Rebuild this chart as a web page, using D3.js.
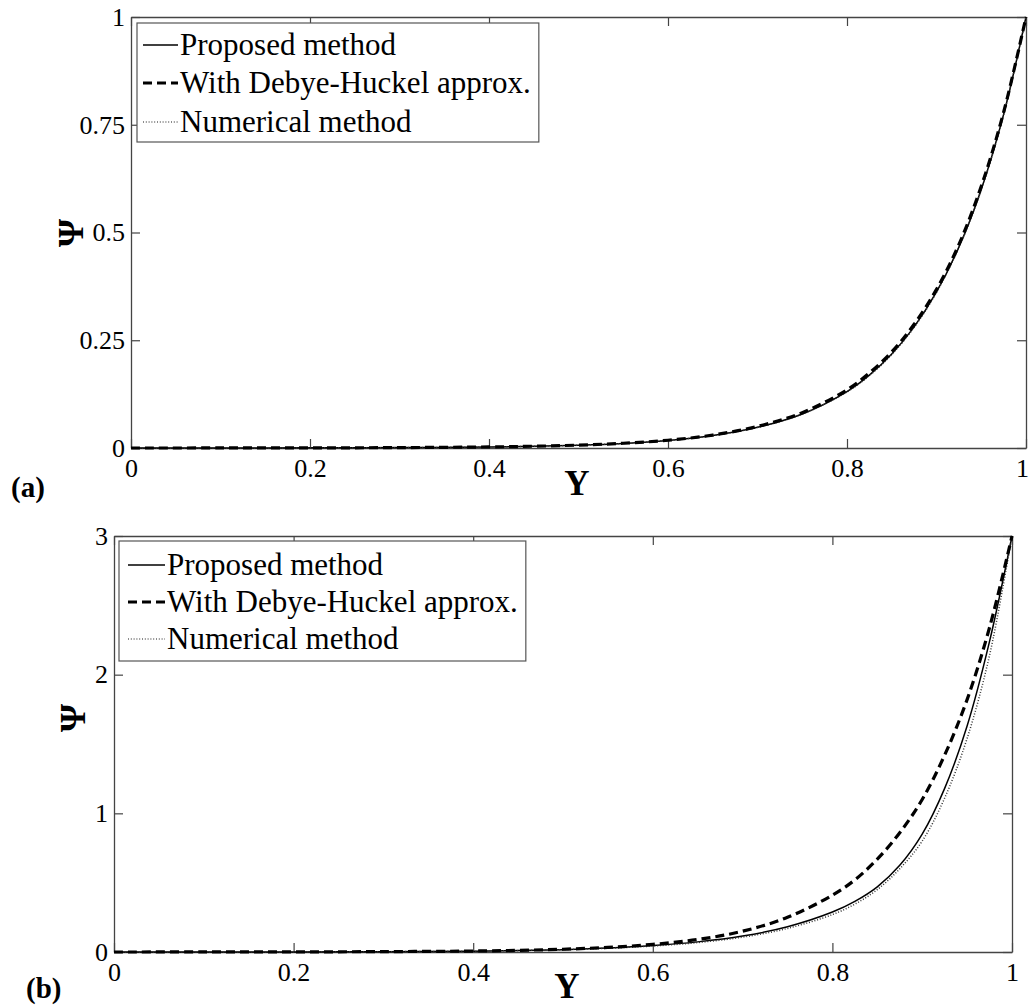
<!DOCTYPE html>
<html>
<head>
<meta charset="utf-8">
<script src="https://cdn.jsdelivr.net/npm/d3@7"></script>
<style>
  html, body { margin: 0; padding: 0; background: #fff; }
  svg { display: block; }
  text { font-family: "Liberation Serif", "Times New Roman", serif; fill: #000; }
</style>
</head>
<body>
<svg id="fig" width="1029" height="1005"></svg>
<script>
// Dimensionless distance from the centre line to the wall
const yPositions = [0, 0.1, 0.2, 0.3, 0.4, 0.45, 0.5, 0.55, 0.6, 0.65, 0.7, 0.75, 0.8, 0.825, 0.85, 0.875, 0.9, 0.925, 0.95, 0.975, 1];

// Axis ticks
const xTicks = [0, 0.2, 0.4, 0.6, 0.8, 1];
const yTicksA = [0, 0.25, 0.5, 0.75, 1];
const yTicksB = [0, 1, 2, 3];

// Legend entries
const seriesNames = ["Proposed method", "With Debye-Huckel approx.", "Numerical method"];

// (a) wall potential = 1
const proposedA  = [0, 0.0001, 0.0003, 0.0009, 0.0024, 0.004, 0.0065, 0.0107, 0.0176, 0.029, 0.048, 0.079, 0.131, 0.169, 0.218, 0.281, 0.362, 0.466, 0.600, 0.774, 1];
const debyeA     = [0, 0.0001, 0.0003, 0.0009, 0.0025, 0.0041, 0.0067, 0.011, 0.018, 0.030, 0.050, 0.082, 0.135, 0.174, 0.223, 0.287, 0.368, 0.472, 0.607, 0.779, 1];
const numericalA = [0, 0.0001, 0.0003, 0.0009, 0.0024, 0.004, 0.0065, 0.0106, 0.0175, 0.0288, 0.0478, 0.0786, 0.130, 0.168, 0.217, 0.280, 0.361, 0.465, 0.599, 0.773, 1];

// (b) wall potential = 3
const proposedB  = [0.0001, 0.0003, 0.0008, 0.002, 0.006, 0.010, 0.017, 0.028, 0.046, 0.073, 0.115, 0.182, 0.288, 0.365, 0.47, 0.625, 0.85, 1.18, 1.63, 2.24, 3];
const debyeB     = [0.0001, 0.0004, 0.001, 0.0027, 0.007, 0.012, 0.02, 0.033, 0.055, 0.09, 0.15, 0.25, 0.41, 0.52, 0.67, 0.86, 1.10, 1.42, 1.82, 2.34, 3];
const numericalB = [0.0001, 0.0003, 0.0008, 0.002, 0.006, 0.010, 0.017, 0.027, 0.043, 0.068, 0.107, 0.17, 0.27, 0.345, 0.45, 0.60, 0.80, 1.11, 1.54, 2.14, 3];

const svg = d3.select("#fig");

const styles = [
  { stroke: "#000", width: 1.5, dash: null },
  { stroke: "#000", width: 3.2, dash: "9,5" },
  { stroke: "#333", width: 1.5, dash: "1,1.8" }
];

function fmt(d) { return String(d); }

function drawPanel(p) {
  const x = d3.scaleLinear().domain([0, 1]).range([p.left, p.right]);
  const y = d3.scaleLinear().domain(p.yDomain).range([p.bottom, p.top]);
  const g = svg.append("g");

  const frame = "#444";
  // bottom axis with labels, ticks pointing inward
  const bx = g.append("g").attr("transform", `translate(0,${p.bottom})`)
    .call(d3.axisBottom(x).tickValues(xTicks).tickFormat(fmt).tickSizeInner(-9).tickSizeOuter(0).tickPadding(11));
  // top axis mirror
  const tx = g.append("g").attr("transform", `translate(0,${p.top})`)
    .call(d3.axisTop(x).tickValues(xTicks).tickFormat("").tickSizeInner(-9).tickSizeOuter(0));
  // left axis
  const ly = g.append("g").attr("transform", `translate(${p.left},0)`)
    .call(d3.axisLeft(y).tickValues(p.yTicks).tickFormat(fmt).tickSizeInner(-9).tickSizeOuter(0).tickPadding(6));
  // right axis mirror
  const ry = g.append("g").attr("transform", `translate(${p.right},0)`)
    .call(d3.axisRight(y).tickValues(p.yTicks).tickFormat("").tickSizeInner(-9).tickSizeOuter(0));

  [bx, tx, ly, ry].forEach(a => {
    a.attr("font-family", '"Liberation Serif", "Times New Roman", serif').attr("font-size", 26);
    a.select(".domain").attr("stroke", frame).attr("stroke-width", 1.3);
    a.selectAll(".tick line").attr("stroke", frame).attr("stroke-width", 1.2);
    a.selectAll(".tick text").attr("fill", "#000");
  });
  // keep the last x label inside the canvas edge
  bx.selectAll(".tick text").filter(d => d === 1).attr("dx", p.lastDx || 0);

  // curves
  const line = d3.line().x((d, i) => x(yPositions[i])).y(d => y(d)).curve(d3.curveCatmullRom.alpha(0.5));
  const order = [0, 2, 1];
  order.forEach(k => {
    const s = styles[k];
    g.append("path").datum(p.series[k])
      .attr("d", line)
      .attr("fill", "none")
      .attr("stroke", s.stroke)
      .attr("stroke-width", s.width)
      .attr("stroke-dasharray", s.dash);
  });

  // legend
  const lg = g.append("g");
  const box = lg.append("rect")
    .attr("x", p.legend.x).attr("y", p.legend.y)
    .attr("height", p.legend.h)
    .attr("fill", "#fff").attr("stroke", "#555").attr("stroke-width", 1.2);
  let maxW = 0;
  seriesNames.forEach((name, i) => {
    const base = p.legend.baselines[i];
    const s = styles[i];
    lg.append("line")
      .attr("x1", p.legend.sample[0]).attr("x2", p.legend.sample[1])
      .attr("y1", base - 10).attr("y2", base - 10)
      .attr("stroke", i === 2 ? "#666" : s.stroke).attr("stroke-width", s.width)
      .attr("stroke-dasharray", s.dash);
    const t = lg.append("text")
      .attr("x", p.legend.textX).attr("y", base)
      .style("font-size", "31px")
      .text(name);
    maxW = Math.max(maxW, t.node().getComputedTextLength());
  });
  box.attr("width", p.legend.textX + maxW + 8 - p.legend.x);

  // axis titles
  g.append("text")
    .attr("x", p.xTitle[0]).attr("y", p.xTitle[1])
    .attr("text-anchor", "middle")
    .style("font-size", "35px").style("font-weight", "bold")
    .text("Y");
  g.append("text")
    .attr("transform", `translate(${p.yTitle[0]},${p.yTitle[1]}) rotate(-90)`)
    .attr("text-anchor", "middle").attr("dy", "0.35em")
    .style("font-size", "36px").style("font-weight", "bold")
    .text("Ψ");
  // panel tag
  g.append("text")
    .attr("x", p.tag[0]).attr("y", p.tag[1])
    .style("font-size", "29px").style("font-weight", "bold")
    .text(p.tagText);
}

drawPanel({
  left: 131, right: 1026, top: 17, bottom: 448,
  yDomain: [0, 1], yTicks: yTicksA,
  series: [proposedA, debyeA, numericalA],
  legend: { x: 137, y: 23, h: 119, textX: 180, sample: [143, 178], baselines: [55, 93, 132] },
  xTitle: [577, 495], yTitle: [70, 233],
  tag: [11, 497], tagText: "(a)", lastDx: -4
});

drawPanel({
  left: 114, right: 1012, top: 536, bottom: 952,
  yDomain: [0, 3], yTicks: yTicksB,
  series: [proposedB, debyeB, numericalB],
  legend: { x: 119, y: 541, h: 120, textX: 167, sample: [128, 165], baselines: [575, 612, 649] },
  xTitle: [567, 998], yTitle: [72, 718],
  tag: [26, 998], tagText: "(b)"
});
</script>
</body>
</html>
